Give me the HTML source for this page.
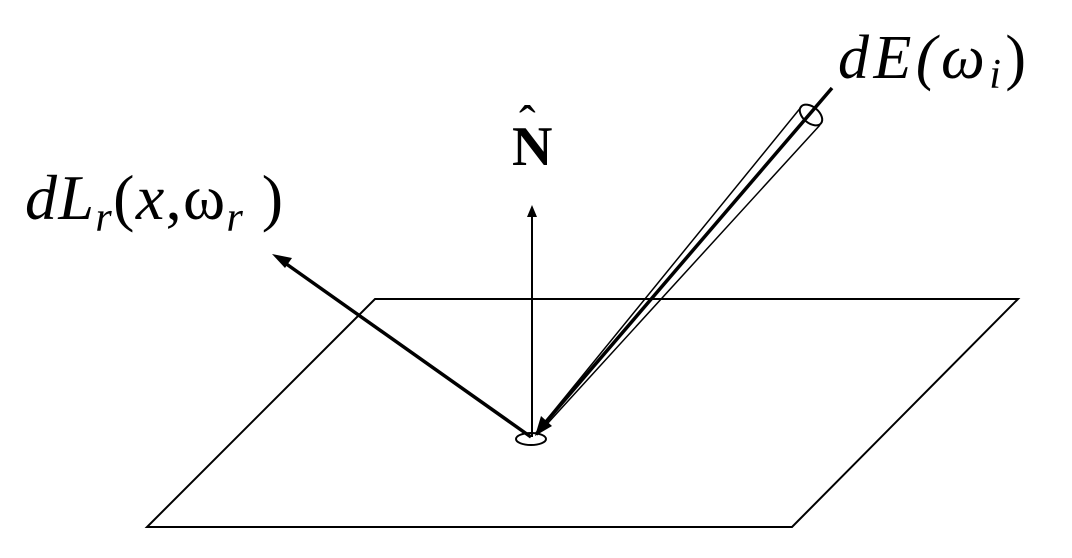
<!DOCTYPE html>
<html><head><style>
html,body{margin:0;padding:0;background:#fff;width:1072px;height:558px;overflow:hidden}
</style></head><body>
<svg width="1072" height="558" viewBox="0 0 1072 558" xmlns="http://www.w3.org/2000/svg">
<g fill="none" stroke="#000">
<polygon points="375,299 1018,299 792,527 147,527" stroke-width="2"/>
<ellipse cx="531" cy="439" rx="15" ry="6" stroke-width="2"/>
<line x1="532" y1="437" x2="532" y2="215" stroke-width="2"/>
<line x1="531" y1="437" x2="285" y2="263" stroke-width="3.5"/>
<line x1="832" y1="88" x2="545" y2="423" stroke-width="3.5"/>
<line x1="802" y1="106" x2="535" y2="434" stroke-width="1.5"/>
<line x1="820" y1="125" x2="537" y2="435" stroke-width="1.5"/>
<ellipse cx="811" cy="115" rx="8" ry="13" transform="rotate(-50 811 115)" stroke-width="2"/>
</g>
<polygon points="532,205 527,217 537,217" fill="#000"/>
<polygon points="272,254 292,258 285,268" fill="#000"/>
<polygon points="535,436 541,416 552,426" fill="#000"/>
<text x="838" y="78" font-family="Liberation Serif, serif" font-style="italic" font-size="62" textLength="188" lengthAdjust="spacing">dE(ω<tspan font-size="42" dy="10">i</tspan><tspan dy="-10" font-style="normal">)</tspan></text>
<text x="512" y="165" font-family="Liberation Serif, serif" font-weight="bold" font-size="56">N</text>
<text x="519" y="140" font-family="Liberation Serif, serif" font-size="50">ˆ</text>
<text x="25" y="219" font-family="Liberation Serif, serif" font-size="64" textLength="258" lengthAdjust="spacing"><tspan font-style="italic">dL</tspan><tspan font-style="italic" font-size="42" dy="12">r</tspan><tspan dy="-12">(</tspan><tspan font-style="italic">x</tspan>,ω<tspan font-style="italic" font-size="42" dy="12">r</tspan><tspan dy="-12"> )</tspan></text>
</svg>
</body></html>
